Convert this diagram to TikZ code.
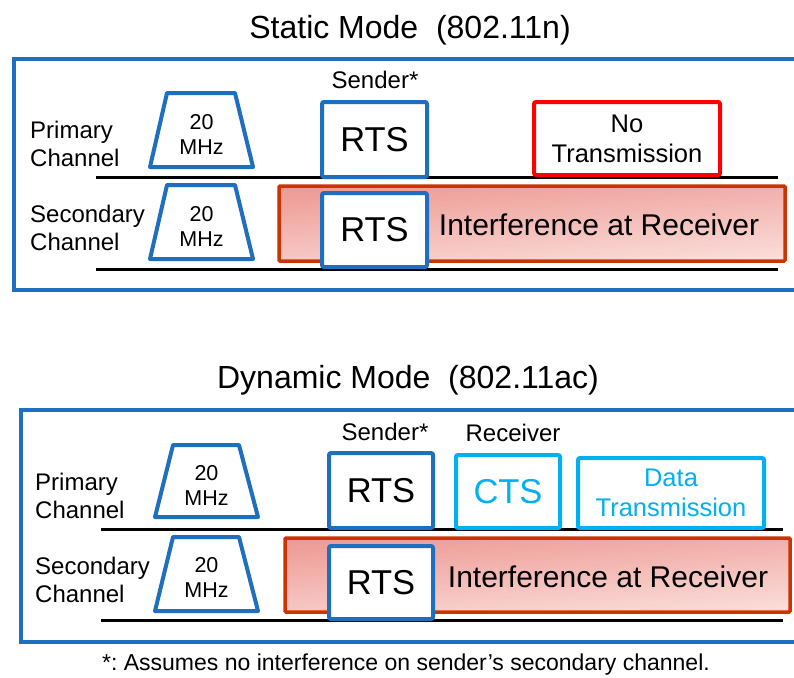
\documentclass[tikz,border=0pt]{standalone}
\usepackage{fontspec}
\setmainfont{Liberation Sans}
\usetikzlibrary{shapes.geometric}
\definecolor{frameblue}{HTML}{1F6FC0}
\definecolor{ctscyan}{HTML}{00B0F0}
\definecolor{interfborder}{HTML}{CC3300}
\definecolor{interfdark}{HTML}{EE9A94}
\definecolor{interflight}{HTML}{FADDDA}
\definecolor{notxred}{HTML}{FF0000}
\tikzset{
  frame/.style={draw=frameblue, line width=4pt},
  chanline/.style={draw=black, line width=3pt},
  trap/.style={draw=frameblue, line width=4pt, line join=round, fill=white},
  rtsbox/.style={draw=frameblue, line width=4pt, fill=white, rounded corners=2pt, inner sep=0pt,
    font=\fontsize{34.5}{36}\selectfont},
  ctsbox/.style={draw=ctscyan, line width=4pt, fill=white, rounded corners=2pt, inner sep=0pt,
    text=ctscyan, font=\fontsize{34.5}{36}\selectfont},
  databox/.style={draw=ctscyan, line width=4pt, fill=white, rounded corners=2pt, inner sep=0pt,
    text=ctscyan, align=center, font=\fontsize{25.5}{30}\selectfont},
  notxbox/.style={draw=notxred, line width=4pt, fill=white, rounded corners=2pt, inner sep=0pt,
    align=center, font=\fontsize{25.5}{30}\selectfont},
  interfbox/.style={draw=interfborder, line width=3.5pt, rounded corners=1pt,
    top color=interfdark, bottom color=interflight, shading angle=4},
  interftext/.style={font=\fontsize{30}{32}\selectfont, inner sep=0pt},
  chanlabel/.style={anchor=west, align=left, inner sep=0pt, font=\fontsize{24}{27.5}\selectfont},
  mhz/.style={align=center, inner sep=0pt, font=\fontsize{21.5}{25}\selectfont},
  roletext/.style={inner sep=0pt, font=\fontsize{24}{26}\selectfont},
  titletext/.style={inner sep=0pt, font=\fontsize{32}{34}\selectfont},
  foot/.style={inner sep=0pt, font=\fontsize{23}{26}\selectfont\frenchspacing},
}
\begin{document}
\begin{tikzpicture}[x=1pt,y=-1pt]
\useasboundingbox (0,0) rectangle (794,677);
\fill[white] (0,0) rectangle (794,677);

% ---------------- Static mode ----------------
\node[titletext] (t1) at (410,30) {Static Mode\ \ (802.11n)};
\draw[frame] (14,59) rectangle (810,290);

\node[chanlabel] (p1) at (30,144) {Primary\\Channel};
\node[chanlabel] (s1) at (30,228) {Secondary\\Channel};

\draw[trap] (150,167) -- (167,93) -- (235,93) -- (253,167) -- cycle;
\node[mhz] (m1) at (201.5,134) {20\\MHz};
\draw[trap] (150,259) -- (167,185) -- (235,185) -- (253,259) -- cycle;
\node[mhz] (m2) at (201.5,226) {20\\MHz};

\coordinate (l1a) at (96,177); \coordinate (l1b) at (778,177);
\coordinate (l2a) at (96,269); \coordinate (l2b) at (778,269);
\draw[chanline] (l1a) -- (l1b);
\draw[chanline] (l2a) -- (l2b);

\path[interfbox] (279,186) rectangle (785,261);
\node[interftext] (i1) at (599,225) {Interference at Receiver};

\node[rtsbox, minimum width=105pt, minimum height=75pt] (r1) at (374.5,139.5) {RTS};
\node[rtsbox, minimum width=105pt, minimum height=74pt] (r2) at (374.5,230) {RTS};
\node[notxbox, minimum width=186pt, minimum height=73pt] (nt) at (627,138.5) {No\\Transmission};
\node[roletext] (snd1) at (375,80) {Sender*};

% ---------------- Dynamic mode ----------------
\node[titletext] (t2) at (408,380) {Dynamic Mode\ \ (802.11ac)};
\draw[frame] (21,410) rectangle (810,642);

\node[chanlabel] (p2) at (35,496) {Primary\\Channel};
\node[chanlabel] (s2) at (35,580) {Secondary\\Channel};

\draw[trap] (155,517) -- (173,445) -- (239,445) -- (258,517) -- cycle;
\node[mhz] (m3) at (206.5,485) {20\\MHz};
\draw[trap] (155,611) -- (173,537) -- (239,537) -- (258,611) -- cycle;
\node[mhz] (m4) at (206.5,577) {20\\MHz};

\coordinate (l3a) at (101,529); \coordinate (l3b) at (783,529);
\coordinate (l4a) at (101,620); \coordinate (l4b) at (783,620);
\draw[chanline] (l3a) -- (l3b);
\draw[chanline] (l4a) -- (l4b);

\path[interfbox] (285,538) rectangle (790,612);
\node[interftext] (i2) at (608,577) {Interference at Receiver};

\node[rtsbox, minimum width=104pt, minimum height=75pt] (r3) at (381,490.5) {RTS};
\node[rtsbox, minimum width=104pt, minimum height=73pt] (r4) at (381,582.5) {RTS};
\node[ctsbox, minimum width=104pt, minimum height=73pt] (cts) at (508,491.5) {CTS};
\node[databox, minimum width=186pt, minimum height=70pt] (dt) at (671,493) {Data\\Transmission};
\node[roletext] (snd2) at (385,432) {Sender*};
\node[roletext] (rcv) at (513,433) {Receiver};

\node[foot] (fn) at (406,665) {*: Assumes no interference on sender’s secondary channel.};
\end{tikzpicture}
\end{document}
